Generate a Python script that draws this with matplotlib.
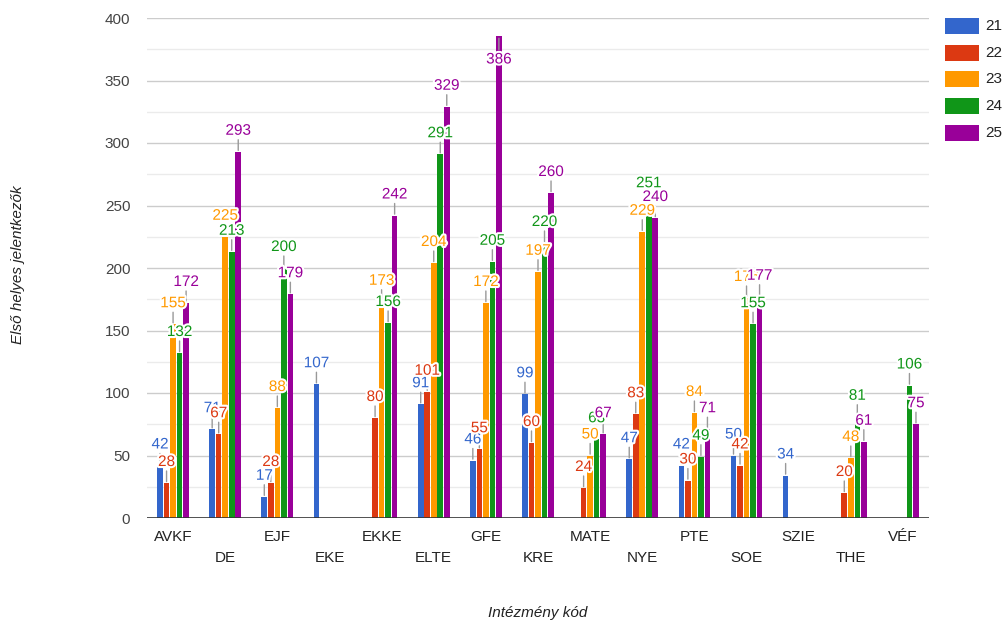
import matplotlib
matplotlib.use("Agg")
import matplotlib.pyplot as plt
import matplotlib.patheffects as pe
from matplotlib.patches import Rectangle
import numpy as np

categories = ["AVKF", "DE", "EJF", "EKE", "EKKE", "ELTE", "GFE", "KRE",
              "MATE", "NYE", "PTE", "SOE", "SZIE", "THE", "VÉF"]
series_names = ["21", "22", "23", "24", "25"]
s21 = [42, 71, 17, 107, None, 91, 46, 99, None, 47, 42, 50, 34, None, None]
s22 = [28, 67, 28, None, 80, 101, 55, 60, 24, 83, 30, 42, None, 20, None]
s23 = [155, 225, 88, None, 173, 204, 172, 197, 50, 229, 84, 176, None, 48, None]
s24 = [132, 213, 200, None, 156, 291, 205, 220, 63, 251, 49, 155, None, 81, 106]
s25 = [172, 293, 179, None, 242, 329, 386, 260, 67, 240, 71, 177, None, 61, 75]
series = [s21, s22, s23, s24, s25]
colors = ["#3366cc", "#dc3912", "#ff9900", "#109618", "#990099"]
y_ticks = [0, 50, 100, 150, 200, 250, 300, 350, 400]
y_title = "Első helyes jelentkezők"
x_title = "Intézmény kód"

W, H = 1007, 624
fig = plt.figure(figsize=(W / 100, H / 100), dpi=100)
plt.rcParams['font.family'] = ['Liberation Sans', 'DejaVu Sans']

left, right, top, bottom = 147, 929, 18, 518
ax = fig.add_axes([left / W, 1 - bottom / H, (right - left) / W, (bottom - top) / H])
n = len(categories)
ax.set_xlim(-0.5, n - 0.5)
ax.set_ylim(0, 400)
for s in ax.spines.values():
    s.set_visible(False)

# gridlines
for v in np.arange(25, 400, 50):
    ax.axhline(v, color="#ebebeb", lw=1, zorder=0)
for v in y_ticks[1:]:
    ax.axhline(v, color="#cccccc", lw=1, zorder=0)
ax.axhline(0, color="#333333", lw=1.2, zorder=3)

ax.set_yticks(y_ticks)
ax.set_yticklabels([str(t) for t in y_ticks], fontsize=11, color="#444444")
ax.tick_params(axis="y", length=0, pad=12)
ax.set_xticks(range(n))
ax.set_xticklabels([])
ax.tick_params(axis="x", length=0)

slot = 0.125
bw = 0.108
x = np.arange(n)
halo = [pe.withStroke(linewidth=3, foreground="white")]

for i, (vals, col) in enumerate(zip(series, colors)):
    xs = x + (i - 2) * slot
    for xi, v in zip(xs, vals):
        if v is None:
            continue
        ax.bar(xi, v, width=bw, color=col, zorder=2, linewidth=0)

for ci in range(n):
    for i, (vals, col) in enumerate(zip(series, colors)):
        v = vals[ci]
        if v is None:
            continue
        xi = ci + (i - 2) * slot
        if v > 370:
            ax.annotate("", xy=(xi, v), xytext=(0, -14), textcoords="offset pixels",
                        arrowprops=dict(arrowstyle="-", color="#999999", lw=1,
                                        shrinkA=0, shrinkB=2), zorder=4)
            ax.annotate(str(v), xy=(xi, v), xytext=(0, -24), textcoords="offset pixels",
                        ha="center", va="center", fontsize=11, color=col,
                        path_effects=halo, zorder=5)
        else:
            ax.annotate("", xy=(xi, v), xytext=(0, 12), textcoords="offset pixels",
                        arrowprops=dict(arrowstyle="-", color="#999999", lw=1,
                                        shrinkA=0, shrinkB=1), zorder=4)
            ax.annotate(str(v), xy=(xi, v), xytext=(0, 21), textcoords="offset pixels",
                        ha="center", va="center", fontsize=11, color=col,
                        path_effects=halo, zorder=5)

# x category labels, staggered
for ci, lab in enumerate(categories):
    off = -19 if ci % 2 == 0 else -40
    ax.annotate(lab, xy=(ci, 0), xytext=(0, off), textcoords="offset pixels",
                ha="center", va="center", fontsize=11, color="#222222",
                annotation_clip=False)

fig.text(538 / W, 1 - 613 / H, x_title, ha="center", va="center",
         fontsize=11, style="italic", color="#222222")
fig.text(18 / W, 1 - 265 / H, y_title, ha="center", va="center", rotation=90,
         fontsize=11, style="italic", color="#222222")

# legend
for i, (name, col) in enumerate(zip(series_names, colors)):
    cy = 26 + i * 26.7
    fig.add_artist(Rectangle((945 / W, 1 - (cy + 8) / H), 34 / W, 16 / H,
                             transform=fig.transFigure, facecolor=col, edgecolor="none"))
    fig.text(985 / W, 1 - cy / H, name, ha="left", va="center", fontsize=11, color="#222222")

fig.savefig("out.png", dpi=100, facecolor="white")
